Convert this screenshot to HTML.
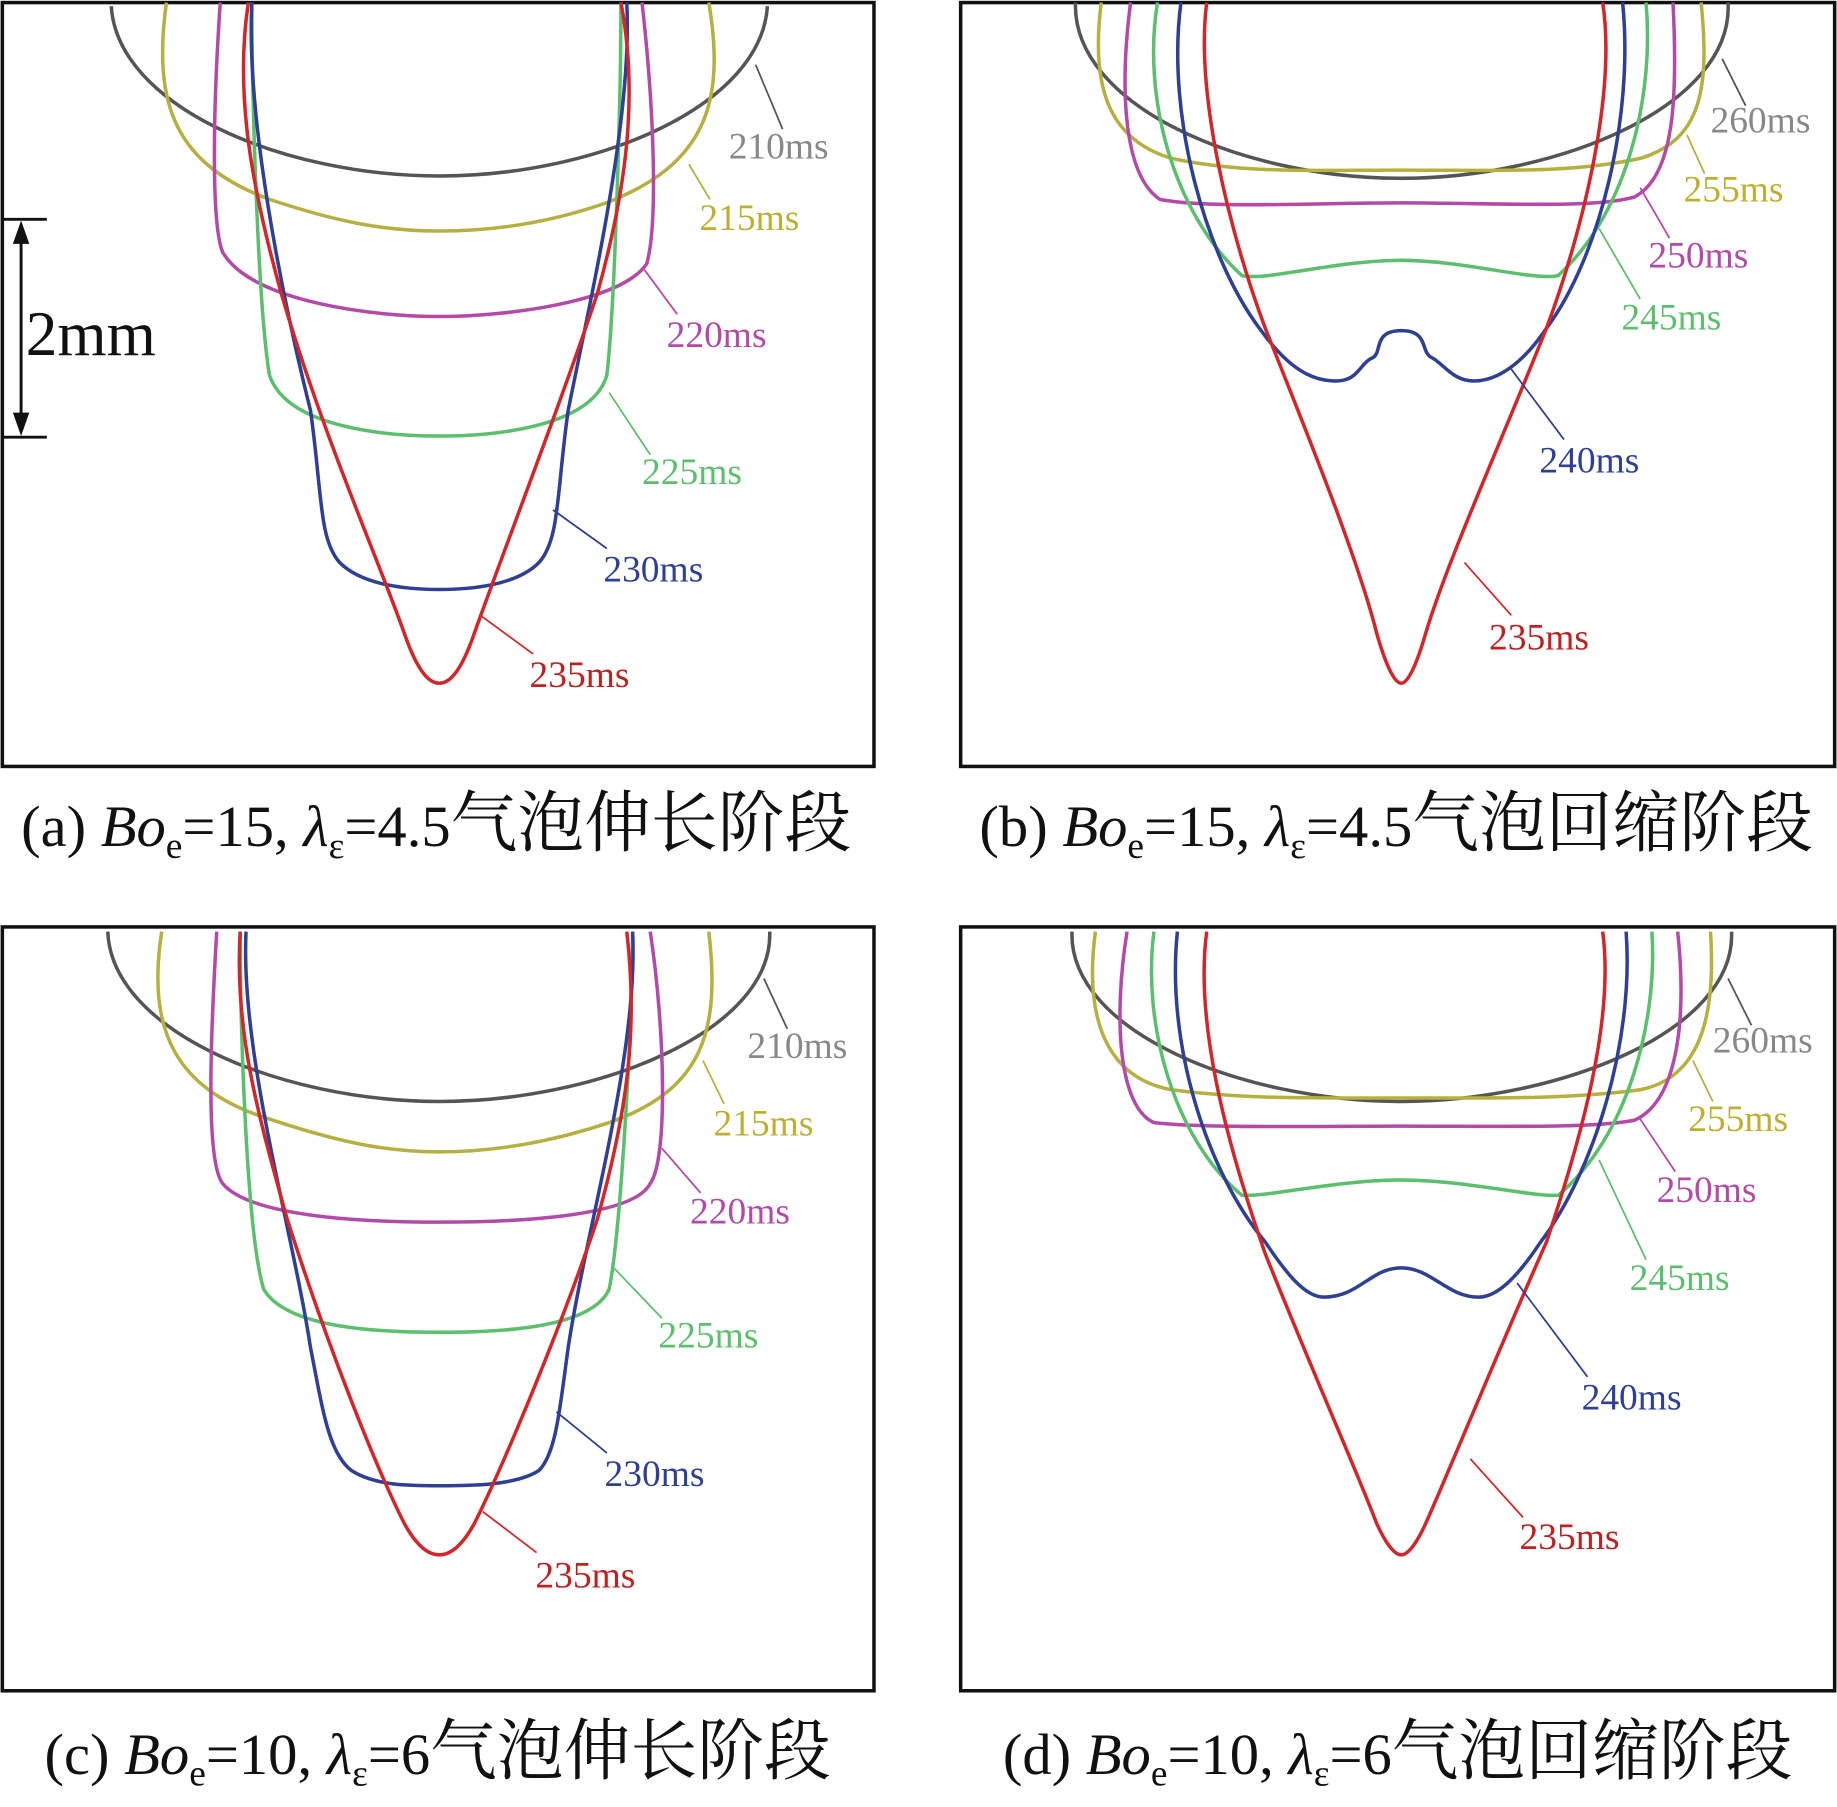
<!DOCTYPE html>
<html><head><meta charset="utf-8"><style>
html,body{margin:0;padding:0;background:#fff}
svg{display:block}
.l{fill:none;stroke-width:3}
.t{font-family:"Liberation Serif","Noto Serif CJK SC",serif;font-size:32px}
.c{font-family:"Liberation Serif","Noto Serif CJK SC",serif;font-size:50px;fill:#111}
.z{font-size:57px}
</style></head><body>
<svg width="1837" height="1807" viewBox="0 0 1568 1542" xmlns="http://www.w3.org/2000/svg">
<g fill="none" stroke="#111" stroke-width="3">
<rect x="2" y="2" width="744" height="652"/>
<rect x="820" y="2" width="746" height="652"/>
<rect x="2" y="791" width="744" height="652"/>
<rect x="820" y="791" width="746" height="652"/>
</g>
<!-- Panel a -->
<path class="l" stroke="#555" d="M95,5 C100,90 240,150 375,150 C510,150 650,90 655,5"/>
<path class="l" stroke="#b5b040" d="M142,2 C130,90 150,140 230,170 C290,190 330,197 375,197 C420,197 470,190 520,172 C600,140 620,90 605,2"/>
<path class="l" stroke="#b44aa8" d="M188,2 C182,90 180,190 190,215 C215,258 320,270 375,270 C430,270 530,258 552,225 C562,190 558,90 548,2"/>
<path class="l" stroke="#5cbf6e" d="M215,2 C215,80 220,260 230,320 C245,365 330,372 375,372 C420,372 505,365 518,320 C525,260 530,80 530,2"/>
<path class="l" stroke="#2e3f95" d="M215,2 C210,100 240,250 265,350 C275,420 272,460 290,480 C310,500 350,503 375,503 C400,503 440,500 460,480 C478,460 475,420 485,350 C505,250 540,100 535,2"/>
<path class="l" stroke="#d3262a" d="M212,2 C200,80 215,160 240,250 C275,370 320,470 345,540 C357,575 367,583 375,583 C383,583 393,575 405,540 C430,470 480,340 510,250 C535,160 545,80 530,2"/>
<g stroke-width="1.5" fill="none">
<line x1="645" y1="55" x2="668" y2="110" stroke="#555"/>
<line x1="588" y1="140" x2="606" y2="170" stroke="#b5b040"/>
<line x1="550" y1="230" x2="578" y2="268" stroke="#b44aa8"/>
<line x1="520" y1="335" x2="555" y2="388" stroke="#5cbf6e"/>
<line x1="472" y1="435" x2="518" y2="468" stroke="#2e3f95"/>
<line x1="410" y1="525" x2="455" y2="558" stroke="#d3262a"/>
</g>
<text class="t" x="622" y="135" fill="#888">210ms</text>
<text class="t" x="597" y="196" fill="#bdb030">215ms</text>
<text class="t" x="569" y="296" fill="#b44aa8">220ms</text>
<text class="t" x="548" y="413" fill="#5cbf6e">225ms</text>
<text class="t" x="515" y="496" fill="#2e3f95">230ms</text>
<text class="t" x="452" y="586" fill="#c02020">235ms</text>
<!-- scale bar -->
<g stroke="#111" stroke-width="2.5">
<line x1="2" y1="187" x2="40" y2="187"/><line x1="2" y1="373" x2="40" y2="373"/>
<line x1="18" y1="200" x2="18" y2="360"/>
</g>
<path d="M18,188 L11,208 L25,208Z M18,372 L11,352 L25,352Z" fill="#111"/>
<text x="22" y="303" style="font-family:'Liberation Serif',serif;font-size:54px" fill="#111">2mm</text>
<!-- Panel b -->
<path class="l" stroke="#555" d="M918,2 C915,90 1060,152 1196,152 C1330,152 1480,90 1475,2"/>
<path class="l" stroke="#b5b040" d="M940,2 C930,80 950,120 1000,135 C1060,148 1120,145 1196,145 C1280,145 1340,148 1400,135 C1450,120 1460,80 1452,2"/>
<path class="l" stroke="#b44aa8" d="M965,2 C955,80 960,150 990,170 C1030,178 1120,173 1196,173 C1280,173 1360,178 1395,168 C1430,150 1432,80 1428,2"/>
<path class="l" stroke="#5cbf6e" d="M988,2 C975,80 1000,180 1060,235 C1080,240 1140,222 1196,222 C1250,222 1310,240 1330,235 C1390,180 1412,80 1405,2"/>
<path class="l" stroke="#2e3f95" d="M1008,2 C995,100 1030,220 1075,280 C1100,315 1120,325 1140,325 C1160,325 1160,310 1172,305 C1180,300 1172,282 1196,282 C1220,282 1212,300 1222,305 C1232,310 1240,325 1258,325 C1278,325 1300,310 1320,280 C1365,220 1395,100 1385,2"/>
<path class="l" stroke="#d3262a" d="M1030,2 C1020,80 1050,200 1080,280 C1120,380 1160,480 1175,540 C1185,575 1192,583 1196,583 C1200,583 1207,575 1217,540 C1235,480 1280,380 1320,280 C1350,200 1380,80 1368,2"/>
<g stroke-width="1.5" fill="none">
<line x1="1470" y1="50" x2="1490" y2="90" stroke="#555"/>
<line x1="1440" y1="115" x2="1455" y2="148" stroke="#b5b040"/>
<line x1="1400" y1="160" x2="1425" y2="203" stroke="#b44aa8"/>
<line x1="1365" y1="195" x2="1400" y2="255" stroke="#5cbf6e"/>
<line x1="1290" y1="315" x2="1335" y2="375" stroke="#2e3f95"/>
<line x1="1250" y1="480" x2="1290" y2="525" stroke="#d3262a"/>
</g>
<text class="t" x="1460" y="113" fill="#888">260ms</text>
<text class="t" x="1437" y="172" fill="#bdb030">255ms</text>
<text class="t" x="1407" y="228" fill="#b44aa8">250ms</text>
<text class="t" x="1384" y="281" fill="#5cbf6e">245ms</text>
<text class="t" x="1314" y="403" fill="#2e3f95">240ms</text>
<text class="t" x="1271" y="554" fill="#c02020">235ms</text>
<!-- Panel c -->
<path class="l" stroke="#555" d="M92,795 C95,880 240,940 375,940 C510,940 660,880 657,795"/>
<path class="l" stroke="#b5b040" d="M138,795 C125,880 150,930 230,955 C290,975 330,983 375,983 C420,983 470,975 520,958 C600,930 615,880 605,795"/>
<path class="l" stroke="#b44aa8" d="M185,795 C180,880 175,990 190,1010 C215,1040 320,1043 375,1043 C430,1043 540,1040 555,1010 C570,990 568,880 555,795"/>
<path class="l" stroke="#5cbf6e" d="M205,795 C205,870 210,1050 225,1100 C245,1135 330,1137 375,1137 C420,1137 505,1135 520,1100 C530,1050 540,870 540,795"/>
<path class="l" stroke="#2e3f95" d="M210,795 C205,900 250,1050 265,1150 C275,1200 280,1240 300,1255 C320,1268 350,1268 375,1268 C400,1268 440,1268 460,1255 C475,1240 478,1200 485,1150 C500,1050 545,900 540,795"/>
<path class="l" stroke="#d3262a" d="M205,795 C200,880 220,950 245,1040 C280,1150 320,1250 345,1300 C357,1322 367,1327 375,1327 C383,1327 393,1322 405,1300 C430,1250 480,1130 510,1040 C535,950 545,880 535,795"/>
<g stroke-width="1.5" fill="none">
<line x1="652" y1="835" x2="672" y2="878" stroke="#555"/>
<line x1="600" y1="905" x2="618" y2="942" stroke="#b5b040"/>
<line x1="565" y1="980" x2="598" y2="1018" stroke="#b44aa8"/>
<line x1="522" y1="1080" x2="565" y2="1125" stroke="#5cbf6e"/>
<line x1="475" y1="1205" x2="518" y2="1240" stroke="#2e3f95"/>
<line x1="412" y1="1290" x2="458" y2="1325" stroke="#d3262a"/>
</g>
<text class="t" x="638" y="903" fill="#888">210ms</text>
<text class="t" x="609" y="969" fill="#bdb030">215ms</text>
<text class="t" x="589" y="1044" fill="#b44aa8">220ms</text>
<text class="t" x="562" y="1150" fill="#5cbf6e">225ms</text>
<text class="t" x="516" y="1268" fill="#2e3f95">230ms</text>
<text class="t" x="457" y="1355" fill="#c02020">235ms</text>
<!-- Panel d -->
<path class="l" stroke="#555" d="M915,795 C912,880 1060,940 1196,940 C1330,940 1482,880 1478,795"/>
<path class="l" stroke="#b5b040" d="M935,795 C925,870 945,920 1000,930 C1060,938 1120,937 1196,937 C1280,937 1340,938 1400,930 C1450,920 1465,870 1460,795"/>
<path class="l" stroke="#b44aa8" d="M962,795 C950,870 955,945 985,958 C1030,963 1120,961 1196,961 C1280,961 1360,963 1395,956 C1432,940 1440,870 1432,795"/>
<path class="l" stroke="#5cbf6e" d="M985,795 C975,870 1000,970 1060,1020 C1080,1022 1140,1007 1196,1007 C1250,1007 1310,1022 1330,1020 C1390,970 1415,870 1410,795"/>
<path class="l" stroke="#2e3f95" d="M1005,795 C995,890 1030,1000 1080,1060 C1100,1090 1115,1107 1130,1107 C1160,1107 1170,1082 1196,1082 C1222,1082 1235,1107 1262,1107 C1278,1107 1295,1090 1315,1060 C1360,1000 1395,890 1388,795"/>
<path class="l" stroke="#d3262a" d="M1030,795 C1020,870 1045,970 1080,1070 C1120,1170 1160,1260 1175,1300 C1185,1322 1192,1327 1196,1327 C1200,1327 1207,1322 1217,1300 C1235,1260 1280,1150 1320,1060 C1350,970 1378,870 1368,795"/>
<g stroke-width="1.5" fill="none">
<line x1="1475" y1="835" x2="1495" y2="875" stroke="#555"/>
<line x1="1445" y1="905" x2="1462" y2="940" stroke="#b5b040"/>
<line x1="1400" y1="955" x2="1430" y2="1000" stroke="#b44aa8"/>
<line x1="1365" y1="990" x2="1405" y2="1075" stroke="#5cbf6e"/>
<line x1="1295" y1="1095" x2="1355" y2="1175" stroke="#2e3f95"/>
<line x1="1255" y1="1245" x2="1300" y2="1295" stroke="#d3262a"/>
</g>
<text class="t" x="1462" y="898" fill="#888">260ms</text>
<text class="t" x="1441" y="965" fill="#bdb030">255ms</text>
<text class="t" x="1414" y="1026" fill="#b44aa8">250ms</text>
<text class="t" x="1391" y="1101" fill="#5cbf6e">245ms</text>
<text class="t" x="1350" y="1203" fill="#2e3f95">240ms</text>
<text class="t" x="1297" y="1322" fill="#c02020">235ms</text>
<!-- Captions -->
<text class="c" x="18" y="722">(a) <tspan font-style="italic">Bo</tspan><tspan font-size="32" dy="10">e</tspan><tspan dy="-10">=15, </tspan><tspan font-style="italic">λ</tspan><tspan font-size="32" dy="10">ε</tspan><tspan dy="-10">=4.5</tspan><tspan class="z">气泡伸长阶段</tspan></text>
<text class="c" x="836" y="722">(b) <tspan font-style="italic">Bo</tspan><tspan font-size="32" dy="10">e</tspan><tspan dy="-10">=15, </tspan><tspan font-style="italic">λ</tspan><tspan font-size="32" dy="10">ε</tspan><tspan dy="-10">=4.5</tspan><tspan class="z">气泡回缩阶段</tspan></text>
<text class="c" x="38" y="1514">(c) <tspan font-style="italic">Bo</tspan><tspan font-size="32" dy="10">e</tspan><tspan dy="-10">=10, </tspan><tspan font-style="italic">λ</tspan><tspan font-size="32" dy="10">ε</tspan><tspan dy="-10">=6</tspan><tspan class="z">气泡伸长阶段</tspan></text>
<text class="c" x="856" y="1514">(d) <tspan font-style="italic">Bo</tspan><tspan font-size="32" dy="10">e</tspan><tspan dy="-10">=10, </tspan><tspan font-style="italic">λ</tspan><tspan font-size="32" dy="10">ε</tspan><tspan dy="-10">=6</tspan><tspan class="z">气泡回缩阶段</tspan></text>
</svg>
</body></html>
